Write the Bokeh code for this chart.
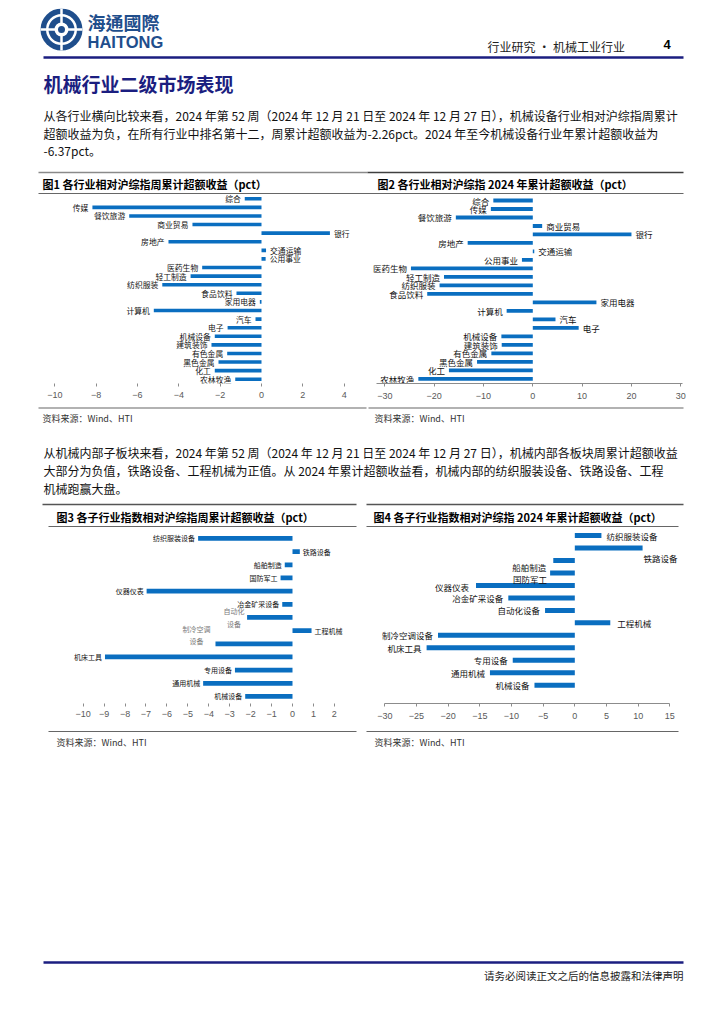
from bokeh.plotting import figure
from bokeh.models import Range1d, FixedTicker
from bokeh.layouts import column, row
from bokeh.core.properties import value
from bokeh.embed import file_html
from bokeh.resources import INLINE

# ---------------- data ----------------
industries = ["综合", "传媒", "餐饮旅游", "商业贸易", "银行", "房地产", "交通运输", "公用事业",
              "医药生物", "轻工制造", "纺织服装", "食品饮料", "家用电器", "计算机", "汽车", "电子",
              "机械设备", "建筑装饰", "有色金属", "黑色金属", "化工", "农林牧渔"]
ind_week = [-0.81, -8.18, -6.40, -3.34, 3.31, -4.50, 0.22, 0.20,
            -2.87, -3.43, -4.80, -1.21, -0.08, -5.21, -0.29, -1.64,
            -2.26, -2.42, -1.66, -2.08, -2.26, -1.27]
ind_ytd = [-8.0, -8.5, -15.6, 1.9, 20.0, -13.2, 0.3, -2.2,
           -24.7, -18.0, -18.9, -21.4, 12.9, -5.3, 4.6, 9.3,
           -6.37, -6.3, -8.4, -11.3, -17.0, -23.2]

subsectors = ["纺织服装设备", "铁路设备", "船舶制造", "国防军工", "仪器仪表", "冶金矿采设备",
              "自动化设备", "工程机械", "制冷空调设备", "机床工具", "专用设备", "通用机械", "机械设备"]
sub_week = [-4.51, 0.35, -0.37, -0.57, -6.97, -0.49, -2.17, 0.91, -3.68, -8.96, -2.75, -4.27, -2.26]
sub_ytd = [4.2, 10.7, -3.4, -3.9, -15.6, -10.5, -4.7, 5.6, -21.6, -23.4, -9.8, -13.4, -6.37]

ticks1 = [-10, -8, -6, -4, -2, 0, 2, 4]
ticks2 = [-30, -20, -10, 0, 10, 20, 30]
ticks3 = [-10, -9, -8, -7, -6, -5, -4, -3, -2, -1, 0, 1, 2]
ticks4 = [-30, -25, -20, -15, -10, -5, 0, 5, 10, 15]

# ---------------- styles ----------------
CJK = value("Noto Sans CJK SC")
CJK_TC = value("Noto Sans CJK TC")
LAT = value("Liberation Sans")
BAR = "#0A6EC0"
NAVY = "#1B1E80"
LOGO = "#1F4E8C"


def canvas(y0, y1):
    p = figure(width=708, height=y1 - y0, x_range=Range1d(8, 716), y_range=Range1d(y1, y0),
               x_axis_type=None, y_axis_type=None, output_backend="svg",
               toolbar_location=None, min_border=0)
    p.outline_line_color = None
    return p


def txt(p, x, y, s, size, color="#000000", bold=False, align="left", font=CJK):
    p.text(x=[x], y=[y], text=[s], text_font=font, text_font_size=f"{size}px",
           text_color=color, text_font_style="bold" if bold else "normal",
           text_align=align, text_baseline="middle")


def hline(p, x0, x1, y, color, w):
    p.line(x=[x0, x1], y=[y, y], line_color=color, line_width=w)


def bar_chart(width, height, names, vals, xr, yr, ticks, bar_h, font_px, mbb, standoff,
              spacing, bounds=None, neg_dx=-4, pos_dx=4, dy=None, dxo=None, wrapped=None):
    p = figure(width=width, height=height, x_range=Range1d(*xr), y_range=Range1d(*yr),
               y_axis_type=None, output_backend="svg", toolbar_location=None,
               min_border_left=0, min_border_right=0, min_border_top=0, min_border_bottom=mbb)
    p.outline_line_color = None
    p.grid.visible = False
    idx = list(range(len(names)))
    p.hbar(y=idx, left=0, right=vals, height=bar_h, fill_color=BAR, line_color=None)
    dy = dy or {}
    dxo = dxo or {}
    wrapped = wrapped or {}
    for i, (n, v) in enumerate(zip(names, vals)):
        yy = i + dy.get(n, 0) / spacing
        if n in wrapped:
            s, off, col = wrapped[n]
            p.text(x=[v], y=[yy], text=[s], x_offset=off, text_font=CJK,
                   text_font_size=f"{font_px}px", text_color=col, text_align="center",
                   text_baseline="middle", text_line_height=1.25)
            continue
        if v < 0:
            p.text(x=[v], y=[yy], text=[n], x_offset=dxo.get(n, neg_dx), text_font=CJK,
                   text_font_size=f"{font_px}px", text_color="#111111", text_align="right",
                   text_baseline="middle")
        else:
            p.text(x=[v], y=[yy], text=[n], x_offset=dxo.get(n, pos_dx), text_font=CJK,
                   text_font_size=f"{font_px}px", text_color="#111111", text_align="left",
                   text_baseline="middle")
    ax = p.xaxis[0]
    ax.ticker = FixedTicker(ticks=ticks)
    ax.major_label_text_font = "Liberation Sans"
    ax.major_label_text_font_size = "9px"
    ax.major_label_text_color = "#595959"
    ax.major_tick_out = 3
    ax.major_tick_in = 0
    ax.minor_tick_out = 0
    ax.minor_tick_in = 0
    ax.major_tick_line_color = "#8c8c8c"
    ax.major_label_standoff = standoff
    if bounds is None:
        ax.axis_line_color = None
    else:
        ax.bounds = bounds
        ax.axis_line_color = "#8c8c8c"
    return p


# ---------------- header (page y 8-194) ----------------
hdr = canvas(8, 194)
hdr.circle(x=[61], y=[29], radius=21, fill_color=LOGO, line_color=None)
hdr.annulus(x=[61], y=[29], inner_radius=13, outer_radius=15.5, fill_color="white", line_color=None)
hdr.circle(x=[61], y=[29], radius=7, fill_color="white", line_color=None)
hdr.segment(x0=[61, 40], y0=[8, 29], x1=[61, 82], y1=[50, 29], line_color="white", line_width=2.5)
hdr.circle(x=[61], y=[29], radius=3.5, fill_color=LOGO, line_color=None)
txt(hdr, 87, 21, "海通國際", 18, LOGO, True, font=CJK_TC)
txt(hdr, 87, 41, "HAITONG", 16.5, LOGO, True, font=LAT)
txt(hdr, 487, 46, "行业研究 • 机械工业行业", 12, "#222222")
txt(hdr, 663, 44, "4", 13, "#000000", True, font=LAT)
hline(hdr, 43, 683, 57, NAVY, 2.5)
txt(hdr, 43, 83, "机械行业二级市场表现", 19, NAVY, True)
para1 = ["从各行业横向比较来看，2024 年第 52 周（2024 年 12 月 21 日至 2024 年 12 月 27 日），机械设备行业相对沪综指周累计",
         "超额收益为负，在所有行业中排名第十二，周累计超额收益为-2.26pct。2024 年至今机械设备行业年累计超额收益为",
         "-6.37pct。"]
for k, s in enumerate(para1):
    txt(hdr, 43, 115 + 17.5 * k, s, 12, "#111111")
hline(hdr, 38, 367, 172, "#8a8a8a", 1.5)
hline(hdr, 367, 683, 172, "#404040", 1.5)
txt(hdr, 42, 183, "图1  各行业相对沪综指周累计超额收益（pct）", 11, "#000000", True)
txt(hdr, 377, 183, "图2 各行业相对沪综指 2024 年累计超额收益（pct）", 11, "#000000", True)
hline(hdr, 38, 683, 193, "#666666", 1.2)

# ---------------- charts 1 & 2 (page y 194-406) ----------------
f1 = bar_chart(358, 212, industries, ind_week, (-12.24, 5.08), (21.494, -0.495), ticks1,
               0.42, 7.8, 21, 5, 8.686)
f2 = bar_chart(350, 212, industries, ind_ytd, (-33.71, 37.24), (21.555, -0.707), ticks2,
               0.45, 8.5, 23, 6, 8.49, bounds=(-31.7, 30.3))

# ---------------- middle (page y 406-527) ----------------
mid = canvas(406, 527)
hline(mid, 38, 366, 407.5, "#666666", 1.2)
hline(mid, 368, 683, 407.5, "#666666", 1.2)
txt(mid, 42, 418, "资料来源：Wind、HTI", 9, "#333333")
txt(mid, 374, 418, "资料来源：Wind、HTI", 9, "#333333")
para2 = ["从机械内部子板块来看，2024 年第 52 周（2024 年 12 月 21 日至 2024 年 12 月 27 日），机械内部各板块周累计超额收益",
         "大部分为负值，铁路设备、工程机械为正值。从 2024 年累计超额收益看，机械内部的纺织服装设备、铁路设备、工程",
         "机械跑赢大盘。"]
for k, s in enumerate(para2):
    txt(mid, 43, 452 + 18 * k, s, 12, "#111111")
hline(mid, 42, 356, 504, "#555555", 1.5)
hline(mid, 366, 683, 504, "#555555", 1.5)
txt(mid, 56, 516, "图3  各子行业指数相对沪综指周累计超额收益（pct）", 11, "#000000", True)
txt(mid, 373, 516, "图4 各子行业指数相对沪综指 2024 年累计超额收益（pct）", 11, "#000000", True)
hline(mid, 48, 356, 526, "#666666", 1.2)
hline(mid, 366, 678, 526, "#666666", 1.2)

# ---------------- charts 3 & 4 (page y 527-730) ----------------
f3 = bar_chart(358, 203, subsectors, sub_week, (-13.57, 3.536), (12.537, -0.83), ticks3,
               0.36, 7, 21, 4, 13.62, neg_dx=-3, pos_dx=3,
               dy={"制冷空调设备": -9},
               wrapped={"自动化设备": ("自动化\n设备", -13, "#7a7a7a"),
                        "制冷空调设备": ("制冷空调\n设备", -19, "#7a7a7a")})
f4 = bar_chart(350, 203, subsectors, sub_ytd, (-32.89, 22.37), (13.46, -0.641), ticks4,
               0.4, 8.5, 27, 6, 12.48, bounds=(-30, 15), neg_dx=-5, pos_dx=5,
               dy={"铁路设备": 10, "船舶制造": 7, "国防军工": 6, "仪器仪表": 2},
               dxo={"铁路设备": 1, "工程机械": 7, "船舶制造": -7, "国防军工": -3, "仪器仪表": -7})

# ---------------- bottom (page y 730-1016) ----------------
bot = canvas(730, 1016)
hline(bot, 48, 356, 731, "#666666", 1.2)
hline(bot, 366, 678, 731, "#666666", 1.2)
txt(bot, 56, 742, "资料来源：Wind、HTI", 9, "#333333")
txt(bot, 374, 742, "资料来源：Wind、HTI", 9, "#333333")
hline(bot, 43, 683, 962, NAVY, 2.5)
txt(bot, 683, 975, "请务必阅读正文之后的信息披露和法律声明", 10.5, "#222222", align="right")

layout = column(hdr, row(f1, f2, spacing=0), mid, row(f3, f4, spacing=0), bot,
                spacing=0, margin=(8, 8, 8, 8))
open("out.html", "w").write(file_html(layout, INLINE))
